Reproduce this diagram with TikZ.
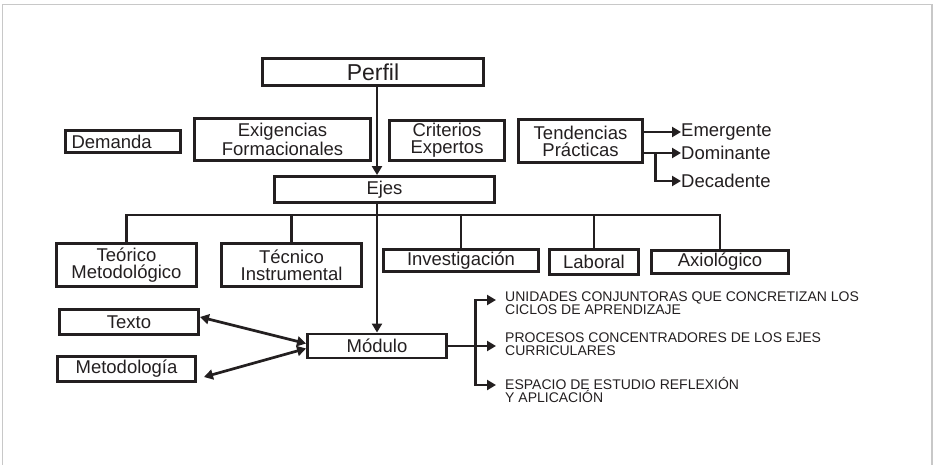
\documentclass[tikz,border=0pt]{standalone}
\usepackage{fontspec}
\setmainfont{Liberation Sans}
\usepackage{tikz}
\usetikzlibrary{positioning,arrows.meta}
\definecolor{ink}{HTML}{231F20}
\definecolor{framegray}{HTML}{C8C8C8}

\begin{document}
\begin{tikzpicture}[x=1pt,y=-1pt,
          every node/.style={text=ink},
          box/.style={draw=ink,line width=2.9pt,inner sep=0pt,align=center,
                      font=\fontsize{18.5}{17}\selectfont},
          item/.style={anchor=west,inner sep=0pt,font=\fontsize{18.5}{17}\selectfont},
          note/.style={anchor=west,inner xsep=9pt,inner ysep=0pt,align=left,
                       font=\fontsize{14}{13}\selectfont},
          wire/.style={draw=ink,line width=2.7pt},
          link/.style={wire,-{Triangle[length=9pt,width=10pt]}},
          dlink/.style={wire,{Triangle[length=9pt,width=10pt]}-{Triangle[length=9pt,width=10pt]}},
        ]
        \useasboundingbox (0,0) rectangle (933,465);
        \draw[framegray,line width=1.3pt] (2.3,465) |- (932,4.5) -- (932,465);
        % top
        \node[box,minimum width=221pt,minimum height=27pt,font=\fontsize{23}{23}\selectfont]
             (perfil) at (373,72) {Perfil};
        \node[box,text width=103pt,inner xsep=6pt,minimum height=22pt,align=left]
             (demanda) at (123,141.5) {Demanda};
        \node[box,minimum width=176pt,minimum height=42pt] (exig) at (282.5,139.5) {Exigencias\\Formacionales};
        \node[box,minimum width=115pt,minimum height=40pt] (crit) at (447,140.5) {Criterios\\Expertos};
        \node[box,minimum width=124pt,minimum height=43pt] (tend) at (580.5,141) {Tendencias\\Prácticas};
        \node[item] (emer) at (681,132) {Emergente};
        \node[item] (domi) at (681,153) {Dominante};
        \node[item] (deca) at (681,181) {Decadente};
        \node[box,minimum width=220pt,minimum height=26pt] (ejes) at (384.5,189.5) {Ejes};
        % ejes
        \node[box,minimum width=140pt,minimum height=43pt] (teor) at (126.5,265) {Teórico\\Metodológico};
        \node[box,minimum width=140pt,minimum height=43pt] (tecn) at (291.5,265) {Técnico\\Instrumental};
        \node[box,minimum width=155pt,minimum height=22pt] (inv) at (461,260.5) {Investigación};
        \node[box,minimum width=89pt,minimum height=25pt] (lab) at (594,262) {Laboral};
        \node[box,minimum width=137pt,minimum height=23pt] (axio) at (720,262) {Axiológico};
        % modulo
        \node[box,minimum width=139pt,minimum height=25pt] (texto) at (129,322) {Texto};
        \node[box,minimum width=138pt,minimum height=25pt] (metod) at (126.5,369) {Metodología};
        \node[box,minimum width=139pt,minimum height=24pt] (modulo) at (377,346) {Módulo};
        \node[note] (unid) at (496,303) {UNIDADES CONJUNTORAS QUE CONCRETIZAN LOS\\CICLOS DE APRENDIZAJE};
        \node[note] (proc) at (496,344.5) {PROCESOS CONCENTRADORES DE LOS EJES\\CURRICULARES};
        \node[note] (espa) at (496,390) {ESPACIO DE ESTUDIO REFLEXIÓN\\Y APLICACIÓN};

        \coordinate (bus) at (0,215);
        \draw[link] (perfil.south -| modulo) -- (ejes.north -| modulo);
        \draw[link] (ejes.south -| modulo) -- (modulo.north);
        \draw[wire] (teor.north) -- (teor |- bus) -- (axio |- bus) -- (axio.north);
        \foreach \n in {tecn,inv,lab}
          \draw[wire] (\n.north) -- (\n |- bus);
        \draw[link] (tend.east |- emer.west) -- (emer.west);
        \draw[link] (tend.east |- domi.west) -- (domi.west);
        \draw[link] ([xshift=11.5pt]tend.east |- domi.west) |- (deca.west);
        \draw[dlink] ([yshift=5pt]texto.east) -- ([yshift=2.5pt]modulo.west);
        \draw[dlink] ([xshift=7pt,yshift=-8pt]metod.east) -- ([yshift=-2.5pt]modulo.west);
        \draw[link] (modulo.east) -- (modulo.east -| proc.west);
        \draw[link] ([xshift=27.5pt]modulo.east) |- ([yshift=3pt]unid.west);
        \draw[link] ([xshift=27.5pt]modulo.east) |- ([yshift=5pt]espa.west);
      \end{tikzpicture}
\end{document}
